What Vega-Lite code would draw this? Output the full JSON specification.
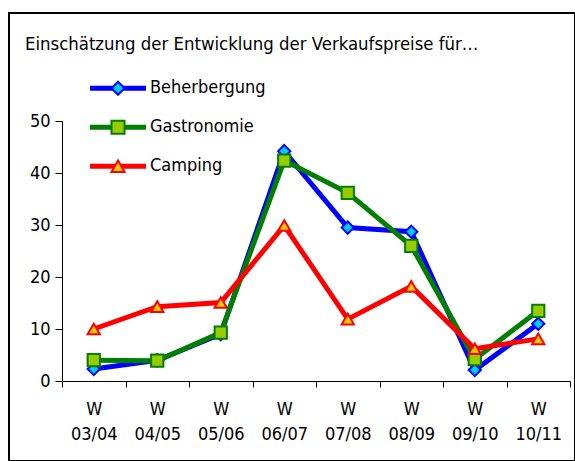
{
  "$schema": "https://vega.github.io/schema/vega-lite/v6.json",
  "autosize": {"type": "none"},
  "padding": {"left": 9, "top": 13, "right": 0, "bottom": 0},
  "width": 566,
  "height": 448,
  "background": "white",
  "title": {
    "text": "Einschätzung der Entwicklung der Verkaufspreise für…",
    "anchor": "start",
    "frame": "group",
    "orient": "top",
    "offset": 0,
    "dx": 16,
    "dy": 55,
    "baseline": "alphabetic",
    "font": "DejaVu Sans Condensed",
    "fontSize": 18.4,
    "fontWeight": "normal",
    "color": "#000000"
  },
  "data": {
    "values": [
      {"Woche": "W 03/04", "Serie": "Beherbergung", "Wert": 2.3},
      {"Woche": "W 04/05", "Serie": "Beherbergung", "Wert": 4.0},
      {"Woche": "W 05/06", "Serie": "Beherbergung", "Wert": 9.0},
      {"Woche": "W 06/07", "Serie": "Beherbergung", "Wert": 44.2},
      {"Woche": "W 07/08", "Serie": "Beherbergung", "Wert": 29.5},
      {"Woche": "W 08/09", "Serie": "Beherbergung", "Wert": 28.7},
      {"Woche": "W 09/10", "Serie": "Beherbergung", "Wert": 2.1},
      {"Woche": "W 10/11", "Serie": "Beherbergung", "Wert": 11.0},
      {"Woche": "W 03/04", "Serie": "Gastronomie", "Wert": 4.0},
      {"Woche": "W 04/05", "Serie": "Gastronomie", "Wert": 3.9},
      {"Woche": "W 05/06", "Serie": "Gastronomie", "Wert": 9.3},
      {"Woche": "W 06/07", "Serie": "Gastronomie", "Wert": 42.4},
      {"Woche": "W 07/08", "Serie": "Gastronomie", "Wert": 36.2},
      {"Woche": "W 08/09", "Serie": "Gastronomie", "Wert": 26.0},
      {"Woche": "W 09/10", "Serie": "Gastronomie", "Wert": 4.2},
      {"Woche": "W 10/11", "Serie": "Gastronomie", "Wert": 13.5},
      {"Woche": "W 03/04", "Serie": "Camping", "Wert": 10.0},
      {"Woche": "W 04/05", "Serie": "Camping", "Wert": 14.3},
      {"Woche": "W 05/06", "Serie": "Camping", "Wert": 15.1},
      {"Woche": "W 06/07", "Serie": "Camping", "Wert": 29.9},
      {"Woche": "W 07/08", "Serie": "Camping", "Wert": 11.9},
      {"Woche": "W 08/09", "Serie": "Camping", "Wert": 18.2},
      {"Woche": "W 09/10", "Serie": "Camping", "Wert": 6.2},
      {"Woche": "W 10/11", "Serie": "Camping", "Wert": 8.1}
    ]
  },
  "encoding": {
    "x": {
      "field": "Woche",
      "type": "ordinal",
      "sort": null,
      "scale": {"type": "band", "range": [53, 561], "paddingInner": 0, "paddingOuter": 0},
      "axis": {
        "orient": "bottom",
        "offset": -80,
        "title": null,
        "labelAngle": 0,
        "tickBand": "extent",
        "tickSize": 6,
        "tickColor": "#000000",
        "domainColor": "#000000",
        "domainWidth": 1,
        "tickWidth": 1,
        "labelExpr": "split(datum.label, ' ')",
        "labelFont": "DejaVu Sans Condensed",
        "labelFontSize": 18,
        "labelLineHeight": 25,
        "labelBaseline": "top",
        "labelPadding": 13,
        "labelColor": "#000000",
        "grid": false
      }
    },
    "y": {
      "field": "Wert",
      "type": "quantitative",
      "scale": {"domain": [0, 50], "range": [368, 108], "nice": false},
      "axis": {
        "orient": "left",
        "offset": -53,
        "title": null,
        "values": [0, 10, 20, 30, 40, 50],
        "tickSize": 7,
        "tickColor": "#000000",
        "domainColor": "#000000",
        "domainWidth": 1,
        "tickWidth": 1,
        "labelFont": "DejaVu Sans Condensed",
        "labelFontSize": 18,
        "labelPadding": 5,
        "labelColor": "#000000",
        "grid": false
      }
    }
  },
  "layer": [
    {
      "mark": {"type": "line", "strokeWidth": 5},
      "encoding": {
        "color": {
          "field": "Serie",
          "type": "nominal",
          "sort": null,
          "scale": {"range": ["#0000FF", "#008000", "#FF0000"]},
          "legend": {
            "orient": "none",
            "legendX": 78.5,
            "legendY": 56,
            "title": null,
            "symbolType": "stroke",
            "symbolSize": 3136,
            "symbolStrokeWidth": 5,
            "clipHeight": 38.5,
            "rowPadding": 0,
            "padding": 0,
            "labelExpr": "''",
            "labelFont": "DejaVu Sans Condensed",
            "labelFontSize": 18
          }
        }
      }
    },
    {
      "mark": {"type": "point", "filled": true, "size": 150, "strokeWidth": 2, "opacity": 1},
      "encoding": {
        "fill": {
          "field": "Serie",
          "type": "nominal",
          "scale": {"domain": ["Beherbergung", "Gastronomie", "Camping"], "range": ["#00CCFF", "#99CC00", "#FFCC00"]},
          "legend": {
            "orient": "none",
            "legendX": 100,
            "legendY": 56,
            "title": null,
            "symbolSize": 170,
            "symbolStrokeWidth": 2,
            "symbolOpacity": 1,
            "clipHeight": 38.5,
            "rowPadding": 0,
            "padding": 0,
            "labelOffset": 23,
            "labelFont": "DejaVu Sans Condensed",
            "labelFontSize": 18,
            "labelColor": "#000000"
          }
        },
        "stroke": {
          "field": "Serie",
          "type": "nominal",
          "scale": {"domain": ["Beherbergung", "Gastronomie", "Camping"], "range": ["#0000FF", "#008000", "#FF0000"]},
          "legend": {
            "orient": "none",
            "legendX": 100,
            "legendY": 56,
            "title": null
          }
        },
        "shape": {
          "field": "Serie",
          "type": "nominal",
          "scale": {"domain": ["Beherbergung", "Gastronomie", "Camping"], "range": ["diamond", "square", "triangle-up"]},
          "legend": {
            "orient": "none",
            "legendX": 100,
            "legendY": 56,
            "title": null
          }
        }
      }
    }
  ],
  "config": {
    "view": {"stroke": "#000000", "strokeWidth": 2, "fill": "white"}
  }
}
